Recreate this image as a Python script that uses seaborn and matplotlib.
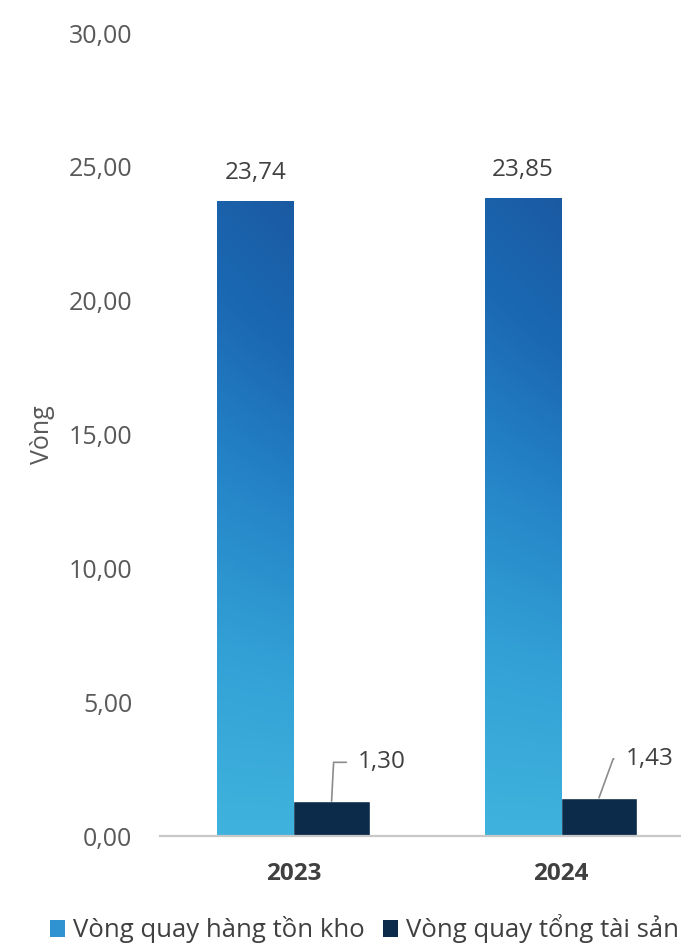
import numpy as np
import pandas as pd
import matplotlib
matplotlib.use("Agg")
import matplotlib.pyplot as plt
import seaborn as sns
from matplotlib.colors import LinearSegmentedColormap
from matplotlib.patches import Patch
from matplotlib.ticker import FuncFormatter

# data
years = ["2023", "2024"]
series = ["Vòng quay hàng tồn kho", "Vòng quay tổng tài sản"]
inventory_turnover = [23.74, 23.85]
asset_turnover = [1.30, 1.43]

df = pd.DataFrame({
    "year": years * 2,
    "series": [series[0]] * 2 + [series[1]] * 2,
    "value": inventory_turnover + asset_turnover,
})

sns.set_theme(style="white")
plt.rcParams["font.family"] = ["Open Sans", "DejaVu Sans"]

navy = "#0c2b4b"
light_blue = "#2f93d2"
text_grey = "#595959"
dark_text = "#404040"

fig = plt.figure(figsize=(6.81, 9.46), dpi=100)
ax = fig.add_axes([160 / 681, 110 / 946, 1 - 160 / 681, (836 - 33) / 946])

sns.barplot(data=df, x="year", y="value", hue="series", order=years,
            hue_order=series, palette=[light_blue, navy], saturation=1,
            width=0.57, edgecolor="white", linewidth=1, legend=False, ax=ax)

# gradient fill for the inventory bars (sky-like texture approximated)
cmap = LinearSegmentedColormap.from_list(
    "sky", ["#3fb3dd", "#33a1d6", "#2585c8", "#1b69b3", "#1a5aa3"])
for p in ax.patches:
    if np.allclose(p.get_facecolor()[:3], matplotlib.colors.to_rgb(light_blue)):
        x0, w, h = p.get_x(), p.get_width(), p.get_height()
        yy = np.linspace(0, 1, 200).reshape(-1, 1)
        xx = np.linspace(0, 1, 40).reshape(1, -1)
        grad = np.clip(yy * 0.88 + xx * yy * 0.12, 0, 1)
        im = ax.imshow(grad, extent=[x0, x0 + w, 0, h], origin="lower",
                       cmap=cmap, aspect="auto", zorder=p.get_zorder() + 0.1,
                       vmin=0, vmax=1, interpolation="bilinear")
        im.set_clip_path(p)

ax.set_xlim(-0.499, 1.449)
ax.set_ylim(0, 30)
ax.set_yticks(np.arange(0, 31, 5))
ax.yaxis.set_major_formatter(FuncFormatter(lambda v, _: f"{v:.2f}".replace(".", ",")))

ax.tick_params(axis="y", length=0, pad=20, labelsize=18, labelcolor=text_grey)
ax.tick_params(axis="x", length=0, pad=19, labelsize=17.5, labelcolor=dark_text)
for lbl in ax.get_xticklabels():
    lbl.set_fontweight("bold")

ax.set_xlabel("")
ax.set_ylabel("Vòng", fontsize=18, color=text_grey, labelpad=10)

for side in ["left", "right", "top"]:
    ax.spines[side].set_visible(False)
ax.spines["bottom"].set_color("#c8c8c8")
ax.spines["bottom"].set_linewidth(1.6)

# value labels
offset = 0.57 / 4
for i, v in enumerate(inventory_turnover):
    ax.annotate(f"{v:.2f}".replace(".", ","), xy=(i - offset, v),
                xytext=(0, 20), textcoords="offset points",
                ha="center", va="center", fontsize=17.5, color=dark_text)

leader_angles = [87, 70]
for i, v in enumerate(asset_turnover):
    ax.annotate(f"{v:.2f}".replace(".", ","), xy=(i + offset, v),
                xytext=(19, 28), textcoords="offset points",
                ha="left", va="center", fontsize=17.5, color=dark_text,
                arrowprops=dict(arrowstyle="-", color="#8c8c8c", lw=1.2,
                                shrinkA=6, shrinkB=0,
                                connectionstyle=f"angle,angleA=180,angleB={leader_angles[i]},rad=0"))

handles = [Patch(facecolor=light_blue, edgecolor="none"),
           Patch(facecolor=navy, edgecolor="none")]
fig.legend(handles, series, loc="center", bbox_to_anchor=(0.535, 0.018),
           ncol=2, frameon=False, fontsize=18.5, handlelength=0.6,
           handleheight=0.6, handletextpad=0.3, columnspacing=0.7,
           labelcolor=dark_text)

fig.savefig("out.png", dpi=100)
